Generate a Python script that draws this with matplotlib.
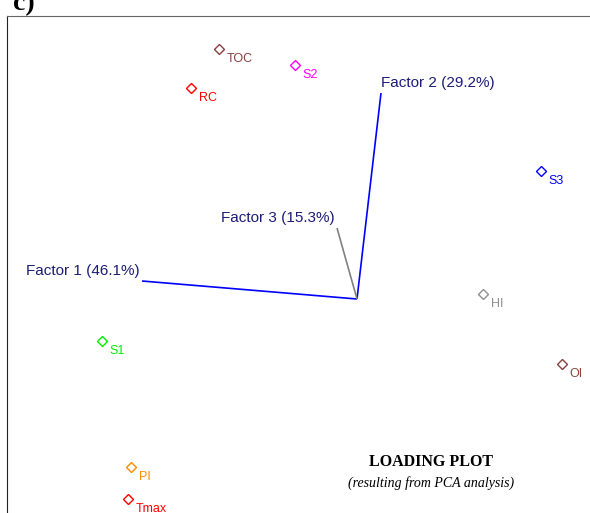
import matplotlib
matplotlib.use("Agg")
import matplotlib.pyplot as plt

# loading positions (plot units, y grows downwards)
variables = ["TOC", "RC", "S2", "S3", "HI", "OI", "S1", "PI", "Tmax"]
var_x = [219, 191, 295, 541, 483, 562, 102, 131, 128]
var_y = [49, 88, 65, 171, 294, 364, 341, 467, 499]
var_colors = ["#8b4040", "#ff0000", "#ff00ff", "#0000ff", "#909090",
              "#8b4040", "#00ee00", "#ff8c00", "#ff0000"]

origin = (357, 299)
factor_names = ["Factor 1 (46.1%)", "Factor 2 (29.2%)", "Factor 3 (15.3%)"]
factor_x = [142, 381, 337]
factor_y = [281, 93, 228]
factor_colors = ["#0000ff", "#0000ff", "#808080"]
factor_ha = ["right", "left", "right"]

fig = plt.figure(figsize=(5.9, 5.13), dpi=100)
ax = fig.add_axes([7 / 590, 0, 583 / 590, 497 / 513])
ax.set_xlim(7, 590)
ax.set_ylim(513, 16)
ax.set_xticks([])
ax.set_yticks([])
ax.spines["right"].set_visible(False)
ax.spines["bottom"].set_visible(False)
ax.spines["top"].set_color("#666666")
ax.spines["left"].set_color("#222222")

plt.rcParams["font.family"] = ["Liberation Sans", "DejaVu Sans"]

for name, x, y, c, ha in zip(factor_names, factor_x, factor_y, factor_colors, factor_ha):
    ax.plot([origin[0], x], [origin[1], y], color=c, lw=1.2, solid_capstyle="butt")
    dx = -2 if ha == "right" else 0
    ax.annotate(name, (x, y), xytext=(dx, 2), textcoords="offset points",
                ha=ha, va="bottom", fontsize=11, color="#1c1c78")

for name, x, y, c in zip(variables, var_x, var_y, var_colors):
    ax.plot(x, y, marker="D", ms=5, mfc="none", mec=c, mew=1.0, ls="none")
    ax.annotate(name, (x, y), xytext=(5.5, -7.5), textcoords="offset points",
                ha="left", va="center", fontsize=9, color=c)

ax.text(431, 462, "LOADING PLOT", ha="center", va="center", fontsize=11.5,
        fontweight="bold", family="Liberation Serif")
ax.text(431, 483, "(resulting from PCA analysis)", ha="center", va="center",
        fontsize=10, style="italic", family="Liberation Serif")

# panel letter, cut off at the top edge as in the source figure
fig.text(13 / 590, 1 - 10 / 513, "c)", ha="left", va="baseline", fontsize=20,
         fontweight="bold", family="Liberation Serif")

fig.savefig("out.png", dpi=100)
